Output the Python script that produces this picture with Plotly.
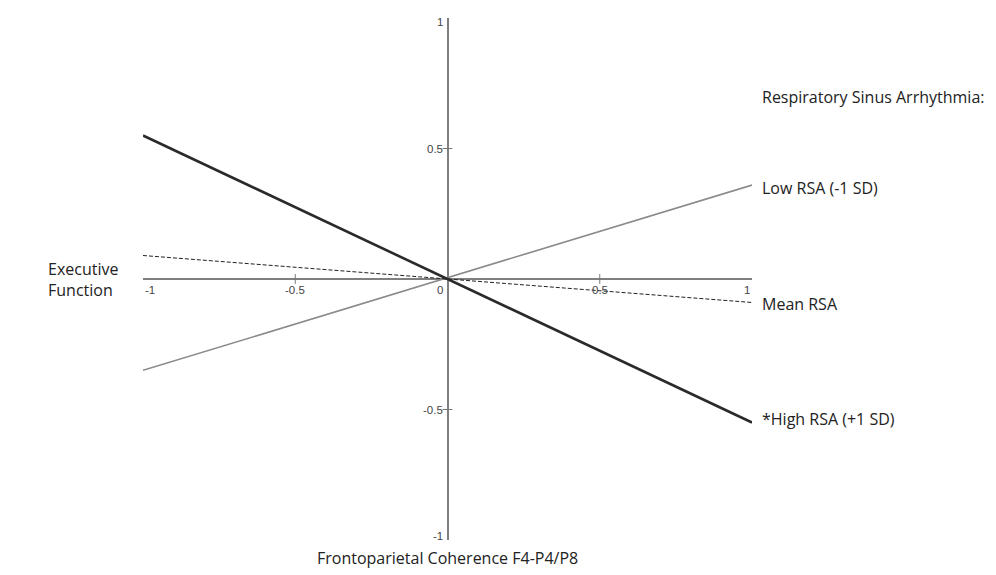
import plotly.graph_objects as go

# Data
x_vals = [-1, 1]
high_rsa = [0.55, -0.55]
mean_rsa = [0.09, -0.09]
low_rsa = [-0.35, 0.36]

x_ticks = [-1, -0.5, 0, 0.5, 1]
x_tick_labels = ["-1", "-0.5", "0", "0.5", "1"]
y_ticks = [1, 0.5, -0.5, -1]
y_tick_labels = ["1", "0.5", "-0.5", "-1"]

series_labels = ["Low RSA (-1 SD)", "Mean RSA", "*High RSA (+1 SD)"]
legend_title = "Respiratory Sinus Arrhythmia:"
x_title = "Frontoparietal Coherence F4-P4/P8"
y_title = "Executive<br>Function"

TXT = "Open Sans, Noto Sans, sans-serif"
TICKF = "Liberation Sans Narrow, Arial Narrow, Liberation Sans, sans-serif"
TXT_SIZE = 16


def px(v):
    return (v + 1) / 2


fig = go.Figure()

fig.add_trace(go.Scatter(x=x_vals, y=low_rsa, mode="lines",
                         line=dict(color="#8a8a8a", width=1.6), showlegend=False))
fig.add_trace(go.Scatter(x=x_vals, y=mean_rsa, mode="lines",
                         line=dict(color="#222222", width=1, dash="4px,2px"), showlegend=False))
fig.add_trace(go.Scatter(x=x_vals, y=high_rsa, mode="lines",
                         line=dict(color="#2a2a2a", width=2.6), showlegend=False))

# small tick marks
fig.add_trace(go.Scatter(x=[-0.5, 0.5], y=[0, 0], mode="markers",
                         marker=dict(symbol="line-ns", size=7, line=dict(color="#777", width=1)),
                         showlegend=False, hoverinfo="skip"))
fig.add_trace(go.Scatter(x=[0, 0], y=[0.5, -0.5], mode="markers",
                         marker=dict(symbol="line-ew", size=7, line=dict(color="#777", width=1)),
                         showlegend=False, hoverinfo="skip"))

annotations = []
# x tick labels
for v, t in zip(x_ticks, x_tick_labels):
    if v == -1:
        xa, xs = "left", 0
    elif v == 1:
        xa, xs = "right", 0
    elif v == 0:
        xa, xs = "right", -3
    else:
        xa, xs = "center", 0
    annotations.append(dict(x=px(v), y=0.5, xref="paper", yref="paper", text=t, showarrow=False,
                            xanchor=xa, yanchor="top", xshift=xs, yshift=-3,
                            font=dict(family=TICKF, size=11.5, color="#444")))
# y tick labels
for v, t in zip(y_ticks, y_tick_labels):
    annotations.append(dict(x=0.5, y=px(v), xref="paper", yref="paper", text=t, showarrow=False,
                            xanchor="right", yanchor="middle", xshift=-3,
                            yshift=(-4 if v == 1 else (4 if v == -1 else 0)),
                            font=dict(family=TICKF, size=11.5, color="#444")))

# Legend-like labels
label_y = [0.35, -0.096, -0.536]
annotations.append(dict(x=1.0165, y=px(0.697), xref="paper", yref="paper", text=legend_title,
                        showarrow=False, xanchor="left", yanchor="middle", xshift=-2,
                        font=dict(family=TXT, size=TXT_SIZE, color="#222")))
for yy, t in zip(label_y, series_labels):
    annotations.append(dict(x=1.0165, y=px(yy), xref="paper", yref="paper", text=t,
                            showarrow=False, xanchor="left", yanchor="middle", xshift=-2,
                            font=dict(family=TXT, size=TXT_SIZE, color="#222")))

annotations.append(dict(x=px(-1.312), y=0.5, xref="paper", yref="paper", text=y_title,
                        showarrow=False, xanchor="left", yanchor="middle", align="left",
                        xshift=-2,
                        font=dict(family=TXT, size=TXT_SIZE, color="#222")))
annotations.append(dict(x=0.5, y=px(-1.069), xref="paper", yref="paper", text=x_title,
                        showarrow=False, xanchor="center", yanchor="middle",
                        font=dict(family=TXT, size=TXT_SIZE, color="#222")))

fig.update_layout(
    width=996, height=575,
    margin=dict(l=135, r=252, t=10, b=43, autoexpand=False),
    paper_bgcolor="white", plot_bgcolor="white",
    xaxis=dict(range=[-1, 1], showgrid=False, showticklabels=False, ticks="",
               zeroline=True, zerolinecolor="#7f7f7f", zerolinewidth=2, fixedrange=True),
    yaxis=dict(range=[-1, 1], showgrid=False, showticklabels=False, ticks="",
               zeroline=True, zerolinecolor="#7f7f7f", zerolinewidth=2, fixedrange=True),
    annotations=annotations,
    showlegend=False,
)

fig.write_html("out.html")
